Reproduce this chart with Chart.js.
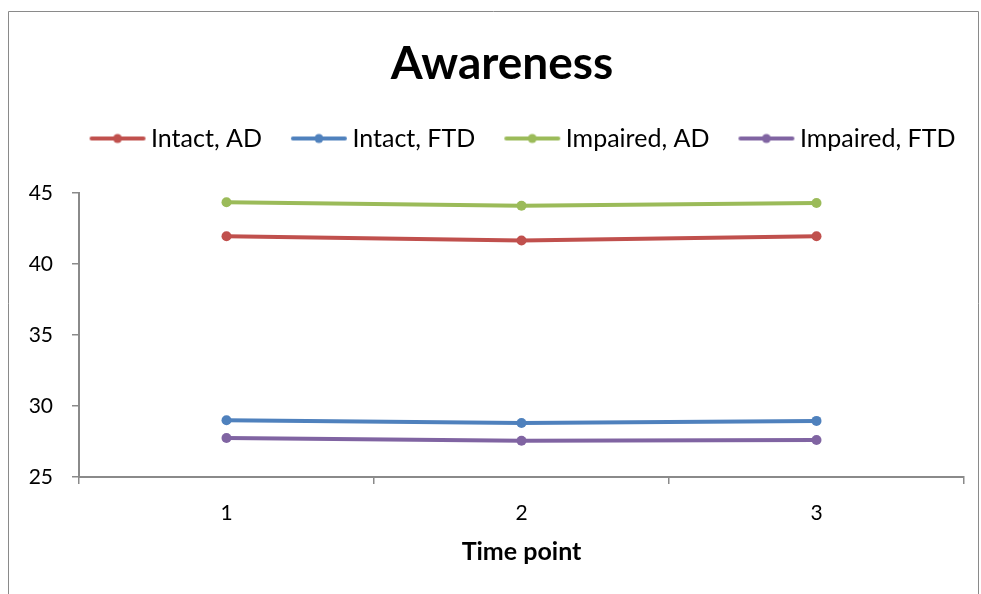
<!DOCTYPE html>
<html>
<head>
<meta charset="utf-8">
<title>Awareness</title>
<script src="https://cdn.jsdelivr.net/npm/chart.js@4.4.1/dist/chart.umd.min.js"></script>
<style>
  html, body { margin: 0; padding: 0; background: #ffffff; }
  #wrap { position: relative; width: 981px; height: 594px; }
  canvas { display: block; }
</style>
</head>
<body>
<div id="wrap"><canvas id="chart" width="981" height="594"></canvas></div>
<script>
// Time points on the x axis
const timePoints = ['1', '2', '3'];

// Mean awareness score per group at each time point
const intactAD = [41.95, 41.65, 41.95];
const intactFTD = [29.0, 28.8, 28.95];
const impairedAD = [44.35, 44.1, 44.3];
const impairedFTD = [27.75, 27.55, 27.6];

// Series names, chart title and y-axis range
const seriesNames = ['Intact, AD', 'Intact, FTD', 'Impaired, AD', 'Impaired, FTD'];
const chartTitle = 'Awareness';
const xTitle = 'Time point';
const yMin = 25, yMax = 45, yStep = 5;

const colors = ['#C0504D', '#4F81BD', '#9BBB59', '#8064A2'];
const FONT = 'Lato, "Open Sans", sans-serif';

// Legend swatch: a short line with a dot in the middle, set to the right
// inside the image so the space before it separates the legend entries
function legendSwatch(color) {
  const c = document.createElement('canvas');
  c.width = 92; c.height = 12;
  const g = c.getContext('2d');
  g.strokeStyle = color;
  g.lineWidth = 4;
  g.lineCap = 'round';
  g.beginPath(); g.moveTo(37, 6); g.lineTo(89, 6); g.stroke();
  g.fillStyle = color;
  g.beginPath(); g.arc(63, 6, 4.5, 0, Math.PI * 2); g.fill();
  return c;
}
const swatches = colors.map(legendSwatch);

// Outer frame and the chart heading
const framePlugin = {
  id: 'frame',
  afterLayout(chart) {
    // move the legend row so it sits centred over the plot
    const lg = chart.legend;
    if (lg) { lg.left += 22; lg.right += 22; }
  },
  beforeDraw(chart) {
    const ctx = chart.ctx;
    ctx.save();
    ctx.strokeStyle = '#8a8a8a';
    ctx.lineWidth = 1;
    ctx.beginPath();
    ctx.moveTo(8.5, 600);
    ctx.lineTo(8.5, 11.5);
    ctx.lineTo(978.5, 11.5);
    ctx.lineTo(978.5, 600);
    ctx.stroke();

    ctx.fillStyle = '#000000';
    ctx.font = 'bold 46px ' + FONT;
    ctx.textAlign = 'center';
    ctx.textBaseline = 'middle';
    ctx.fillText(chartTitle, 502, 64);
    ctx.restore();
  }
};

const seriesData = [intactAD, intactFTD, impairedAD, impairedFTD];

new Chart(document.getElementById('chart'), {
  type: 'line',
  data: {
    labels: timePoints,
    datasets: seriesData.map((d, i) => ({
      label: seriesNames[i],
      data: d,
      xAxisID: 'x',
      yAxisID: 'y',
      borderColor: colors[i],
      backgroundColor: colors[i],
      borderWidth: 4,
      pointRadius: 5,
      pointHoverRadius: 5,
      pointBorderWidth: 0,
      tension: 0,
      fill: false
    }))
  },
  options: {
    responsive: false,
    animation: false,
    devicePixelRatio: 1,
    layout: { padding: { left: 10, right: 17, top: 124, bottom: 0 } },
    plugins: {
      title: { display: false },
      legend: {
        display: true,
        position: 'top',
        fullSize: true,
        labels: {
          usePointStyle: true,
          pointStyleWidth: 76,
          padding: 2,
          color: '#000000',
          font: { family: FONT, size: 25 },
          generateLabels(chart) {
            return chart.data.datasets.map((ds, i) => ({
              text: ds.label,
              fillStyle: colors[i],
              strokeStyle: colors[i],
              lineWidth: 0,
              pointStyle: swatches[i],
              datasetIndex: i,
              hidden: false,
              fontColor: '#000000'
            }));
          }
        }
      },
      tooltip: { enabled: false }
    },
    scales: {
      x: {
        offset: true,
        grid: {
          offset: true,
          drawOnChartArea: false,
          drawTicks: true,
          tickLength: 7,
          color: '#8a8a8a',
          lineWidth: 1.5
        },
        border: { display: true, color: '#8a8a8a', width: 2 },
        ticks: {
          color: '#000000',
          font: { family: FONT, size: 21 },
          padding: 17
        },
        title: {
          display: true,
          text: xTitle,
          color: '#000000',
          font: { family: FONT, size: 25, weight: 'bold' },
          padding: { top: 0, bottom: 27 }
        },
        afterFit(scale) { scale.height = 117; }
      },
      // empty band between the legend and the plot
      gap: {
        axis: 'x',
        type: 'category',
        position: 'top',
        display: true,
        grid: { display: false },
        ticks: { display: false },
        border: { display: false },
        afterFit(scale) { scale.height = 32; }
      },
      y: {
        min: yMin,
        max: yMax,
        grid: {
          drawOnChartArea: false,
          drawTicks: true,
          tickLength: 7,
          color: '#8a8a8a',
          lineWidth: 1.5
        },
        border: { display: true, color: '#8a8a8a', width: 2 },
        ticks: {
          stepSize: yStep,
          color: '#000000',
          font: { family: FONT, size: 21 },
          padding: 19
        },
        afterFit(scale) { scale.width = 69; }
      }
    }
  },
  plugins: [framePlugin]
});
</script>
</body>
</html>
